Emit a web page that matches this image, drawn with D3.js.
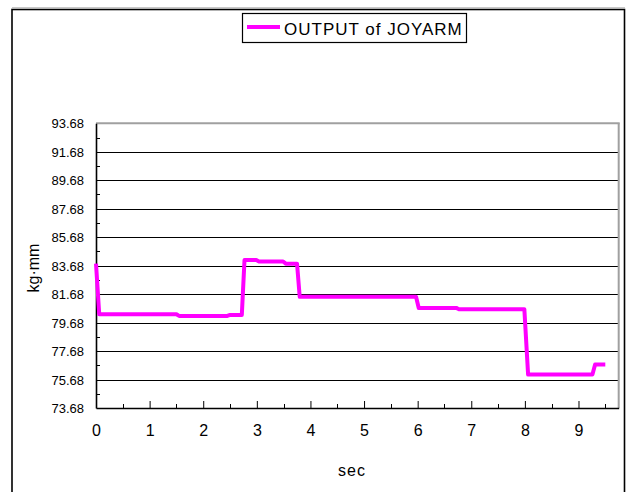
<!DOCTYPE html>
<html>
<head>
<meta charset="utf-8">
<script src="https://cdn.jsdelivr.net/npm/d3@7"></script>
<style>
  body { margin: 0; background: #fff; }
  svg text { font-family: "Liberation Sans", Arial, sans-serif; fill: #000; }
</style>
</head>
<body>
<div id="chart"></div>
<script>
// Data
let seriesName = 'OUTPUT of JOYARM';
let timeSec = [0, 0.06, 1.50, 1.55, 2.45, 2.50, 2.72, 2.77, 2.99, 3.04, 3.49, 3.54, 3.75, 3.80, 5.97, 6.02, 6.72, 6.77, 7.99, 8.06, 9.26, 9.31, 9.50];
let torque  = [83.83, 80.27, 80.27, 80.15, 80.15, 80.22, 80.22, 84.07, 84.07, 83.97, 83.97, 83.82, 83.82, 81.49, 81.49, 80.71, 80.71, 80.62, 80.62, 76.03, 76.03, 76.73, 76.73];
let yTicks = [73.68, 75.68, 77.68, 79.68, 81.68, 83.68, 85.68, 87.68, 89.68, 91.68, 93.68];
let xTicks = [0, 1, 2, 3, 4, 5, 6, 7, 8, 9];
let xMax = 9.75;

let width = 626, height = 492;
let plot = { left: 96, right: 618.7, top: 123.3, bottom: 408 };

let svg = d3.select('#chart')
    .append('svg')
    .attr('width', width)
    .attr('height', height);

// Outer chart frame
svg.append('line')
    .attr('x1', 12).attr('x2', 625).attr('y1', 7.5).attr('y2', 7.5)
    .attr('stroke', '#c8c8c8').attr('stroke-width', 1);
svg.append('rect')
    .attr('x', 12).attr('y', 9.5)
    .attr('width', 612.5).attr('height', 500)
    .attr('fill', 'none')
    .attr('stroke', '#000').attr('stroke-width', 1.6);

// Scales
let x = d3.scaleLinear().domain([0, xMax]).range([plot.left, plot.right]);
let y = d3.scaleLinear().domain([yTicks[0], yTicks[yTicks.length - 1]]).range([plot.bottom, plot.top]);

// Gridlines at the inner major ticks
svg.append('g')
    .selectAll('line')
    .data(yTicks.slice(1, -1))
    .enter()
    .append('line')
    .attr('x1', plot.left).attr('x2', plot.right)
    .attr('y1', d => Math.round(y(d)) + 0.5)
    .attr('y2', d => Math.round(y(d)) + 0.5)
    .attr('stroke', '#000').attr('stroke-width', 1.2);

// Plot area border (top and right are grey)
svg.append('line')
    .attr('x1', plot.left).attr('x2', plot.right + 1)
    .attr('y1', y(yTicks[yTicks.length - 1])).attr('y2', y(yTicks[yTicks.length - 1]))
    .attr('stroke', '#a0a0a0').attr('stroke-width', 2);
svg.append('line')
    .attr('x1', plot.right).attr('x2', plot.right)
    .attr('y1', plot.top).attr('y2', plot.bottom)
    .attr('stroke', '#a0a0a0').attr('stroke-width', 2);

// Minor y ticks (inward)
let yMinor = yTicks.slice(0, -1).map(d => d + 1);
svg.append('g')
    .selectAll('line')
    .data(yMinor)
    .enter()
    .append('line')
    .attr('x1', plot.left).attr('x2', plot.left + 4)
    .attr('y1', d => Math.round(y(d)) + 0.5)
    .attr('y2', d => Math.round(y(d)) + 0.5)
    .attr('stroke', '#000').attr('stroke-width', 1);

// Y axis
let yAxis = svg.append('g')
    .attr('transform', 'translate(' + plot.left + ',0)')
    .call(d3.axisLeft(y).tickValues(yTicks).tickSize(0).tickPadding(12).tickFormat(d3.format('.2f')));
yAxis.select('.domain').attr('stroke', '#000').attr('stroke-width', 1.6);
yAxis.selectAll('text')
    .style('font-size', '13px')
    .attr('dy', '0.35em');

// X axis: major ticks inward, minor half-second ticks
let xMinor = xTicks.map(d => d + 0.5).filter(d => d < xMax);
svg.append('g')
    .selectAll('line')
    .data(xMinor)
    .enter()
    .append('line')
    .attr('x1', d => Math.round(x(d)) + 0.5)
    .attr('x2', d => Math.round(x(d)) + 0.5)
    .attr('y1', plot.bottom).attr('y2', plot.bottom - 4)
    .attr('stroke', '#000').attr('stroke-width', 1);

let xAxis = svg.append('g')
    .attr('transform', 'translate(0,' + plot.bottom + ')')
    .call(d3.axisBottom(x).tickValues(xTicks).tickSizeInner(-7).tickSizeOuter(0).tickPadding(17));
xAxis.select('.domain').attr('stroke', '#000').attr('stroke-width', 1.6);
xAxis.selectAll('.tick line').attr('stroke', '#000');
xAxis.selectAll('text')
    .style('font-size', '16px');

// Axis titles
svg.append('text')
    .attr('x', 352).attr('y', 476)
    .attr('text-anchor', 'middle')
    .style('font-size', '16px')
    .style('letter-spacing', '1px')
    .text('sec');

svg.append('text')
    .attr('transform', 'translate(39,268) rotate(-90)')
    .attr('text-anchor', 'middle')
    .style('font-size', '16px')
    .text('kg·mm');

// Series line
let line = d3.line()
    .x((d, i) => x(timeSec[i]))
    .y(d => y(d));

svg.append('path')
    .datum(torque)
    .attr('d', line)
    .attr('fill', 'none')
    .attr('stroke', '#ff00ff')
    .attr('stroke-width', 4)
    .attr('stroke-linejoin', 'round');

// Legend
let legend = svg.append('g');
legend.append('rect')
    .attr('x', 242.5).attr('y', 13.5)
    .attr('width', 224).attr('height', 29)
    .attr('fill', '#fff')
    .attr('stroke', '#000').attr('stroke-width', 1.2);
legend.append('line')
    .attr('x1', 247).attr('x2', 280)
    .attr('y1', 27).attr('y2', 27)
    .attr('stroke', '#ff00ff').attr('stroke-width', 4);
legend.append('text')
    .attr('x', 284).attr('y', 35)
    .style('font-size', '17px')
    .style('letter-spacing', '1px')
    .text(seriesName);
</script>
</body>
</html>
